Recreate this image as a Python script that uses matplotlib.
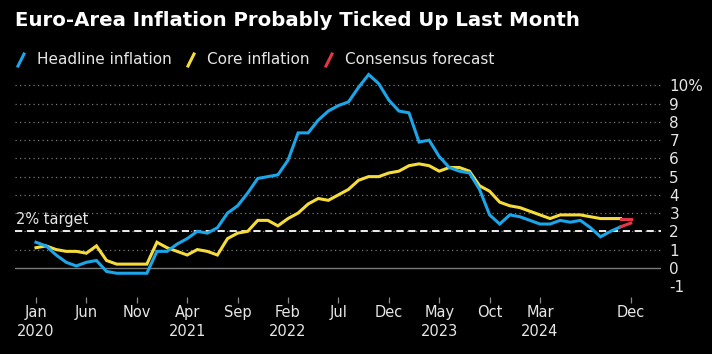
import matplotlib.pyplot as plt
from matplotlib.lines import Line2D

# monthly values, Jan 2020 .. Nov 2024 (% y/y)
headline = [1.4, 1.2, 0.7, 0.3, 0.1, 0.3, 0.4, -0.2, -0.3, -0.3, -0.3, -0.3,
            0.9, 0.9, 1.3, 1.6, 2.0, 1.9, 2.2, 3.0, 3.4, 4.1, 4.9, 5.0,
            5.1, 5.9, 7.4, 7.4, 8.1, 8.6, 8.9, 9.1, 9.9, 10.6, 10.1, 9.2,
            8.6, 8.5, 6.9, 7.0, 6.1, 5.5, 5.3, 5.2, 4.3, 2.9, 2.4, 2.9,
            2.8, 2.6, 2.4, 2.4, 2.6, 2.5, 2.6, 2.2, 1.7, 2.0, 2.25]
core = [1.1, 1.2, 1.0, 0.9, 0.9, 0.8, 1.2, 0.4, 0.2, 0.2, 0.2, 0.2,
        1.4, 1.1, 0.9, 0.7, 1.0, 0.9, 0.7, 1.6, 1.9, 2.0, 2.6, 2.6,
        2.3, 2.7, 3.0, 3.5, 3.8, 3.7, 4.0, 4.3, 4.8, 5.0, 5.0, 5.2,
        5.3, 5.6, 5.7, 5.6, 5.3, 5.5, 5.5, 5.3, 4.5, 4.2, 3.6, 3.4,
        3.3, 3.1, 2.9, 2.7, 2.9, 2.9, 2.9, 2.8, 2.7, 2.7, 2.7]
# Dec 2024 consensus
forecast_headline = 2.45
forecast_core = 2.7
target = 2

tick_months = [0, 5, 10, 15, 20, 25, 30, 35, 40, 45, 50, 59]
tick_labels = ["Jan\n2020", "Jun", "Nov", "Apr\n2021", "Sep", "Feb\n2022",
               "Jul", "Dec", "May\n2023", "Oct", "Mar\n2024", "Dec"]
y_ticks = list(range(-1, 11))
y_labels = [str(v) for v in y_ticks[:-1]] + ["10%"]

blue = "#1BA6EA"
yellow = "#F6DC3B"
red = "#E23744"
txt = "#E6E6E6"

W, H = 712, 354
fig = plt.figure(figsize=(W / 100, H / 100), dpi=100, facecolor="black")
ax = fig.add_axes([15 / W, (H - 286) / H, 646 / W, 216 / H], facecolor="black")

months = list(range(len(headline)))
last = len(headline) - 1

for y in range(1, 11):
    ax.axhline(y, color="#777777", lw=0.9, linestyle=(0, (1, 2.6)), zorder=1)
ax.axhline(0, color="#7a7a7a", lw=1.0, zorder=1)
ax.axhline(target, color="white", lw=1.3, linestyle=(0, (4, 2.6)), zorder=2)
ax.text(-2.0, target + 0.25, "2% target", color=txt, fontsize=10.5,
        ha="left", va="bottom")

ax.plot(months, core, color=yellow, lw=2.2, zorder=3, solid_joinstyle="miter")
ax.plot(months, headline, color=blue, lw=2.2, zorder=4, solid_joinstyle="miter")
ax.plot([last, last + 1], [core[last], forecast_core], color=red, lw=2.2, zorder=5)
ax.plot([last, last + 1], [headline[last], forecast_headline], color=red, lw=2.2, zorder=5)

ax.set_xlim(-2.08, 62.0)
ax.set_ylim(-1, 10.85)

for s in ax.spines.values():
    s.set_visible(False)
ax.spines["bottom"].set_position(("outward", 8))

ax.set_xticks(tick_months)
ax.set_xticklabels(tick_labels, fontsize=10.5, color=txt, linespacing=1.35)
ax.tick_params(axis="x", length=4.5, width=0.9, color="#8a8a8a", pad=1)

ax.yaxis.tick_right()
ax.set_yticks(y_ticks)
ax.set_yticklabels(y_labels, fontsize=11, color=txt)
ax.tick_params(axis="y", length=0, pad=6)

fig.text(15 / W, 1 - 20 / H, "Euro-Area Inflation Probably Ticked Up Last Month",
         color="white", fontsize=14.2, fontweight="bold", ha="left", va="center")

legend_items = [("Headline inflation", blue, 18), ("Core inflation", yellow, 188),
                ("Consensus forecast", red, 326)]
for label, color, x0 in legend_items:
    fig.add_artist(Line2D([x0 / W, (x0 + 6) / W], [1 - 66 / H, 1 - 54 / H],
                          color=color, lw=2.2, transform=fig.transFigure))
    fig.text((x0 + 19) / W, 1 - 60 / H, label, color=txt, fontsize=11,
             ha="left", va="center")

fig.savefig("out.png", dpi=100, facecolor="black")
